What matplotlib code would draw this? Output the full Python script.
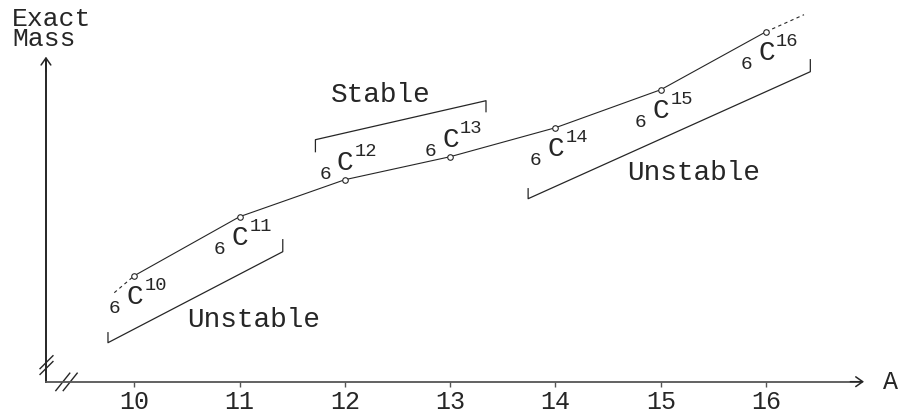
import matplotlib
matplotlib.use("Agg")
from matplotlib import pyplot as plt
from matplotlib.path import Path

plt.rcParams['font.family'] = ['Liberation Mono', 'DejaVu Sans Mono']

# Carbon isotopes: mass number A and (schematic) exact mass
mass_number = [10, 11, 12, 13, 14, 15, 16]
exact_mass = [1.06, 1.65, 2.02, 2.25, 2.54, 2.92, 3.50]
atomic_number = "6"
label_side = ["below", "below", "above", "above", "below", "below", "below"]

# dashed continuation at both ends of the curve
ext_left = (9.81, 0.89)
ext_right = (16.36, 3.67)

# brackets: (A, mass) corners
bracket_unstable_lo = [(9.75, 0.49), (9.75, 0.39), (11.41, 1.30), (11.41, 1.42)]
bracket_stable = [(11.72, 2.30), (11.72, 2.42), (13.34, 2.81), (13.34, 2.70)]
bracket_unstable_hi = [(13.74, 1.93), (13.74, 1.83), (16.42, 3.10), (16.42, 3.22)]

fig = plt.figure(figsize=(9.02, 4.15), dpi=100)
ax = fig.add_axes([0, 0, 1, 1])
ax.set_xlim(8.7246, 17.2906)
ax.set_ylim(-0.333, 3.817)
ax.set_facecolor('white')

ink = '#262626'
x0 = 9.161   # where the mass axis sits

# axes
for s in ['top', 'right']:
    ax.spines[s].set_visible(False)
ax.spines['bottom'].set_position(('data', 0))
ax.spines['left'].set_position(('data', x0))
ax.spines['bottom'].set_bounds(x0, 16.90)
ax.spines['left'].set_bounds(0, 3.22)
ax.spines['bottom'].set_color('#555555')
ax.spines['left'].set_color(ink)
ax.spines['bottom'].set_linewidth(1.3)
ax.spines['left'].set_linewidth(1.4)
ax.set_yticks([])
ax.set_xticks(mass_number)
ax.set_xticklabels([str(a) for a in mass_number])
ax.tick_params(axis='x', direction='out', length=3.6, width=1.0, color='#555555',
               labelsize=18, pad=2.5, labelcolor=ink)

arrow = dict(arrowstyle='->,head_length=0.5,head_width=0.35', lw=1.1, color=ink,
             shrinkA=0, shrinkB=0)
ax.annotate('', xy=(16.93, 0), xytext=(16.80, 0), arrowprops=arrow)
ax.annotate('', xy=(x0, 3.25), xytext=(x0, 3.10), arrowprops=arrow)

# axis break marks
ybreak = Path([(-6, -4), (6, 8), (-6, -9), (6, 3)],
              [Path.MOVETO, Path.LINETO, Path.MOVETO, Path.LINETO])
xbreak = Path([(-9, -7), (3, 8), (-3, -7), (9, 8)],
              [Path.MOVETO, Path.LINETO, Path.MOVETO, Path.LINETO])
ax.plot([x0], [0.18], marker=ybreak, markersize=15, mfc='none', mec=ink, mew=1.0, ls='none')
ax.plot([9.351], [0], marker=xbreak, markersize=16, mfc='none', mec=ink, mew=1.0, ls='none')

ax.text(8.839, 3.75, "Exact\nMass", ha='left', va='top', fontsize=19, color=ink,
        linespacing=0.8)
ax.text(17.18, 0.0, "A", ha='center', va='center', fontsize=18, color=ink)

# curve
ax.plot(mass_number, exact_mass, color=ink, lw=0.8, zorder=3)
ax.plot([ext_left[0], mass_number[0]], [ext_left[1], exact_mass[0]],
        color=ink, lw=0.8, ls=(0, (3, 3)))
ax.plot([mass_number[-1], ext_right[0]], [exact_mass[-1], ext_right[1]],
        color=ink, lw=0.8, ls=(0, (3, 3)))
ax.plot(mass_number, exact_mass, ls='none', marker='o', markersize=4,
        mfc='white', mec=ink, mew=0.8, zorder=4)

# isotope labels  6C^A
px = 0.72
for a, m, side in zip(mass_number, exact_mass, label_side):
    base = 28 if side == "below" else -10
    ax.annotate("C", (a, m), xytext=(-8 * px, -base * px), textcoords='offset points',
                ha='left', va='baseline', fontsize=20, color=ink)
    ax.annotate(atomic_number, (a, m), xytext=(-14 * px, -(base + 9) * px),
                textcoords='offset points', ha='right', va='baseline', fontsize=14, color=ink)
    ax.annotate(str(a), (a, m), xytext=(10 * px, -(base - 14) * px),
                textcoords='offset points', ha='left', va='baseline', fontsize=13.5, color=ink)

# brackets
for br in [bracket_unstable_lo, bracket_stable, bracket_unstable_hi]:
    ax.plot([p[0] for p in br], [p[1] for p in br], color=ink, lw=0.9)

ax.text(11.132, 0.617, "Unstable", ha='center', va='center', fontsize=20, color=ink)
ax.text(15.31, 2.087, "Unstable", ha='center', va='center', fontsize=20, color=ink)
ax.text(12.343, 2.867, "Stable", ha='center', va='center', fontsize=20, color=ink)

fig.savefig("out.png", dpi=100, facecolor='white')
